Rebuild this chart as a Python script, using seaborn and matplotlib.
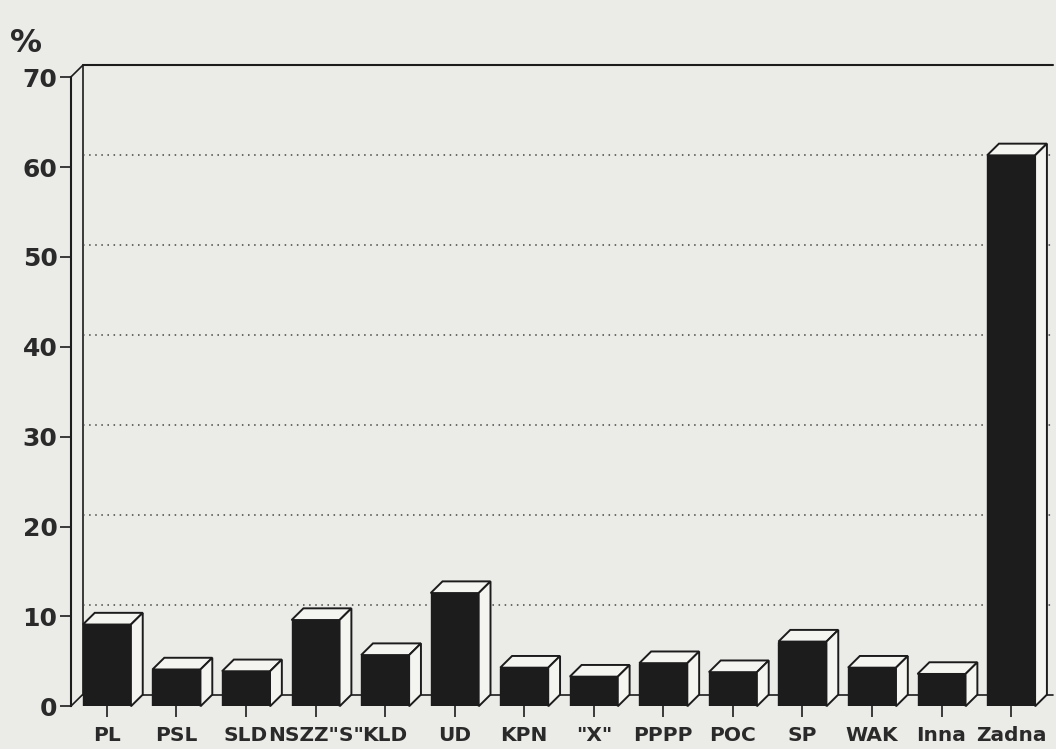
import pandas as pd
import matplotlib
matplotlib.use('Agg')
import matplotlib.pyplot as plt
import seaborn as sns
from matplotlib.patches import Polygon

# dane (%)
parties = ['PL', 'PSL', 'SLD', 'NSZZ"S"', 'KLD', 'UD', 'KPN', '"X"', 'PPPP', 'POC', 'SP', 'WAK', 'Inna', 'Zadna']
percent = [9.1, 4.1, 3.9, 9.6, 5.7, 12.6, 4.3, 3.3, 4.8, 3.8, 7.2, 4.3, 3.6, 61.3]
y_ticks = [0, 10, 20, 30, 40, 50, 60, 70]
grid_levels = [10, 20, 30, 40, 50, 60]

df = pd.DataFrame({'partia': parties, 'proc': percent})

sns.set_style('white')
plt.rcParams['font.family'] = ['DejaVu Sans']

bg = '#ebebe8'
side = '#f4f4f1'
ink = '#1c1c1c'

fig = plt.figure(figsize=(10.56, 7.49), dpi=100, facecolor=bg)
ax = fig.add_axes([0.067, 0.057, 0.93, 0.864])
ax.set_facecolor(bg)

sns.barplot(data=df, x='partia', y='proc', color=ink, width=0.69,
            saturation=1, edgecolor=ink, ax=ax, zorder=3)

xl, xr = -0.52, 13.6
ax.set_xlim(xl, xr)
ax.set_ylim(0, 72)

# glebokosc 3D (w jednostkach danych)
dx, dy = 0.17, 1.3

# sciana tylna i podloga
ax.plot([xl + dx, xr], [70 + dy, 70 + dy], color=ink, lw=1.5, zorder=1, clip_on=False)
ax.plot([xl + dx, xl + dx], [dy, 70 + dy], color=ink, lw=1.2, zorder=1, clip_on=False)
ax.plot([xl + dx, xr], [dy, dy], color=ink, lw=1.2, zorder=1, clip_on=False)
ax.plot([xl, xl + dx], [70, 70 + dy], color=ink, lw=1.2, zorder=1, clip_on=False)
ax.plot([xl, xl + dx], [0, dy], color=ink, lw=1.2, zorder=1, clip_on=False)
for g in grid_levels:
    ax.plot([xl + dx, xr], [g + dy, g + dy], color='#444444', lw=1.1,
            linestyle=(0, (1, 3)), zorder=1, clip_on=False)

# boki i gora slupkow
for p in ax.patches[:len(parties)]:
    x0, w, h = p.get_x(), p.get_width(), p.get_height()
    top = [(x0, h), (x0 + w, h), (x0 + w + dx, h + dy), (x0 + dx, h + dy)]
    sid = [(x0 + w, 0), (x0 + w + dx, dy), (x0 + w + dx, h + dy), (x0 + w, h)]
    for poly in (top, sid):
        ax.add_patch(Polygon(poly, closed=True, facecolor=side, edgecolor=ink,
                             lw=1.4, zorder=3, clip_on=False))

for s in ['top', 'right', 'bottom']:
    ax.spines[s].set_visible(False)
ax.spines['left'].set_position(('data', xl))
ax.spines['left'].set_bounds(0, 70)
ax.spines['left'].set_color(ink)
ax.spines['left'].set_linewidth(1.5)

ax.set_yticks(y_ticks)
ax.set_yticklabels([str(t) for t in y_ticks], fontsize=18, fontweight='bold', color='#2a2a2a')
ax.tick_params(axis='y', length=8, width=1.2, direction='out', color=ink, pad=1.5, left=True)
ax.tick_params(axis='x', length=8, width=1.2, direction='out', color=ink, pad=6, bottom=True)
ax.set_xticks(range(len(parties)))
ax.set_xticklabels(parties, fontsize=14.5, fontweight='bold', color='#2a2a2a')
ax.set_xlabel('')
ax.set_ylabel('')

fig.text(0.009, 0.93, '%', fontsize=23, fontweight='bold', color='#2a2a2a')

fig.savefig('out.png', dpi=100, facecolor=bg)
